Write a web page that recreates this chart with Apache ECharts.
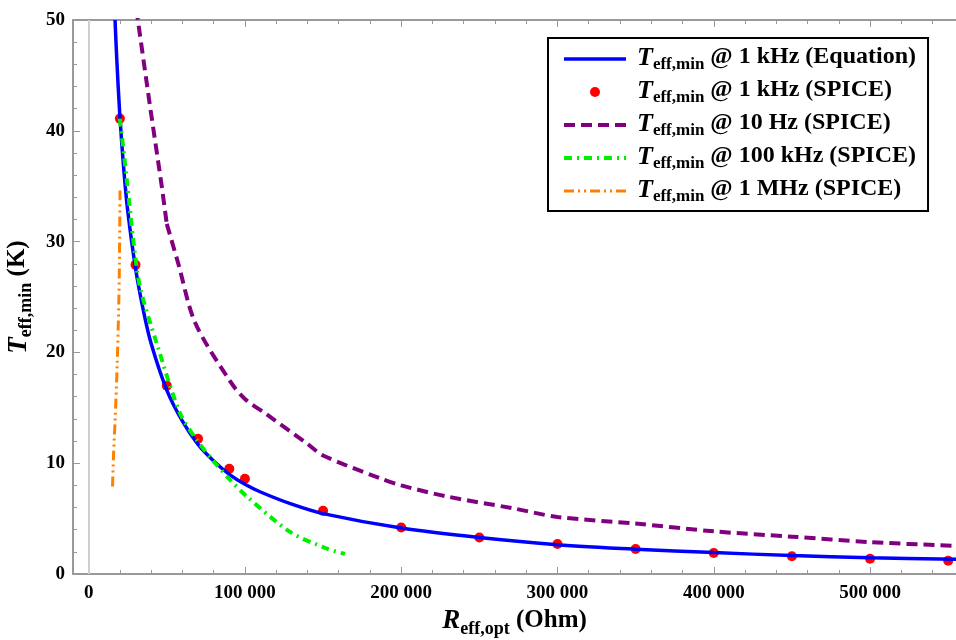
<!DOCTYPE html>
<html>
<head>
<meta charset="utf-8">
<script src="https://cdn.jsdelivr.net/npm/echarts@6/dist/echarts.min.js"></script>
<style>
  html, body { margin: 0; padding: 0; background: #fff; }
  #main { width: 956px; height: 640px; }
</style>
</head>
<body>
<div id="main"></div>
<script>
// [R_eff,opt (Ohm), T_eff,min (K)]
var eq1kHz = [[16900,50],[18000,46.5],[20000,41.3],[22500,36.5],[25000,32.8],[30000,27.6],[35000,23.8],[40000,20.8],
  [50000,16.6],[60000,13.8],[70000,11.7],[80000,10.2],[90000,9.0],[100000,8.1],[110000,7.4],[130000,6.3],[150000,5.45],
  [200000,4.15],[250000,3.3],[300000,2.65],[350000,2.24],[400000,1.93],[450000,1.67],[500000,1.47],[555000,1.32]];
var spice1kHz = [[20000,41.1],[30000,27.9],[50000,17.0],[70000,12.2],[90000,9.5],[100000,8.6],[150000,5.7],
  [200000,4.2],[250000,3.3],[300000,2.7],[350000,2.26],[400000,1.9],[450000,1.6],[500000,1.38],[550000,1.2]];
// 10 Hz curve: straight part above the knee at 50 kOhm, then the smooth tail
var spice10HzHigh = [[30500,51],[39300,42.2],[46800,35],[50000,31.6]];
var spice10HzLow = [[50000,31.6],[57400,28.0],[68100,22.7],[90500,17.4],
  [100000,15.8],[114000,14.4],[139500,11.8],[150000,10.7],[186400,8.64],[200000,8.0],[229100,7.0],
  [271500,5.93],[300000,5.15],[350000,4.55],[400000,3.85],[450000,3.37],[500000,2.88],[555000,2.53]];
var spice100kHz = [[20000,41.1],[24800,35.1],[28600,30.1],[32900,25.9],[43600,20.8],[58500,14.5],[69200,12.1],
  [79800,10.2],[90500,8.5],[101200,7.0],[128900,3.8],[152300,2.3],[164000,1.8]];
var spice1MHz = [[15300,7.9],[16000,11],[17000,14],[18300,19],[19300,24.5],[19700,28],[20100,34.7]];

var xMajorTicks = [0, 100000, 200000, 300000, 400000, 500000];
var xMinorTicks = [20000, 40000, 60000, 80000, 120000, 140000, 160000, 180000, 220000, 240000, 260000, 280000,
  320000, 340000, 360000, 380000, 420000, 440000, 460000, 480000, 520000, 540000];

var legendNames = {
  eq: '{t|T}{s|eff,min}{n| @ 1 kHz (Equation)}',
  s1k: '{t|T}{s|eff,min}{n| @ 1 kHz (SPICE)}',
  s10: '{t|T}{s|eff,min}{n| @ 10 Hz (SPICE)}',
  s100k: '{t|T}{s|eff,min}{n| @ 100 kHz (SPICE)}',
  s1M: '{t|T}{s|eff,min}{n| @ 1 MHz (SPICE)}'
};

var serif = 'Liberation Serif';
var frameColor = '#999';
var legendRich = {
  t: { fontFamily: serif, fontWeight: 'bold', fontStyle: 'italic', fontSize: 26, color: '#000', lineHeight: 28, verticalAlign: 'top' },
  s: { fontFamily: serif, fontWeight: 'bold', fontSize: 17, color: '#000', lineHeight: 17, verticalAlign: 'bottom' },
  n: { fontFamily: serif, fontWeight: 'bold', fontSize: 24, color: '#000', lineHeight: 28, verticalAlign: 'top' }
};
var nameRich = {
  t: { fontFamily: serif, fontWeight: 'bold', fontStyle: 'italic', fontSize: 27, color: '#000', lineHeight: 30, verticalAlign: 'top' },
  s: { fontFamily: serif, fontWeight: 'bold', fontSize: 18, color: '#000', lineHeight: 18, verticalAlign: 'bottom' },
  n: { fontFamily: serif, fontWeight: 'bold', fontSize: 25, color: '#000', lineHeight: 30, verticalAlign: 'top' }
};

function fmtX(v) {
  return String(v).replace(/\B(?=(\d{3})+(?!\d))/g, ' ');
}

var myChart = echarts.init(document.getElementById('main'));
var option;

option = {
  animation: false,
  backgroundColor: '#fff',
  grid: { left: 73, right: 0, top: 20, bottom: 66, outerBoundsMode: 'none' },
  legend: {
    orient: 'vertical',
    left: 548,
    top: 38,
    padding: [7, 12, 6, 14],
    itemGap: 5,
    itemWidth: 62,
    itemHeight: 10,
    borderColor: '#000',
    borderWidth: 2,
    backgroundColor: '#fff',
    lineStyle: { width: 'inherit' },
    formatter: function (name) { return legendNames[name]; },
    textStyle: { rich: legendRich, padding: [0, 0, 0, 6] },
    data: [
      { name: 'eq', itemStyle: { opacity: 0 } },
      { name: 's1k', icon: 'circle' },
      { name: 's10', itemStyle: { opacity: 0 } },
      { name: 's100k', itemStyle: { opacity: 0 } },
      { name: 's1M', itemStyle: { opacity: 0 } }
    ]
  },
  xAxis: [
    {
      type: 'value', min: -10000, max: 555000, position: 'bottom',
      axisLine: { show: true, onZero: false, lineStyle: { color: frameColor, width: 2 } },
      axisTick: { show: true, inside: true, length: 7, customValues: xMajorTicks, lineStyle: { color: frameColor } },
      axisLabel: {
        customValues: xMajorTicks, formatter: fmtX, margin: 10,
        fontFamily: serif, fontWeight: 'bold', fontSize: 19, color: '#000'
      },
      splitLine: { show: false },
      name: '{t|R}{s|eff,opt}{n| (Ohm)}',
      nameLocation: 'middle',
      nameGap: 34,
      nameTextStyle: { rich: nameRich }
    },
    {
      type: 'value', min: -10000, max: 555000, position: 'bottom',
      axisLine: { show: false },
      axisTick: { show: true, inside: true, length: 4, customValues: xMinorTicks, lineStyle: { color: frameColor } },
      axisLabel: { show: false },
      splitLine: { show: false }
    },
    {
      type: 'value', min: -10000, max: 555000, position: 'top',
      axisLine: { show: true, onZero: false, lineStyle: { color: frameColor, width: 2 } },
      axisTick: { show: true, inside: true, length: 7, customValues: xMajorTicks, lineStyle: { color: frameColor } },
      axisLabel: { show: false },
      splitLine: { show: false }
    },
    {
      type: 'value', min: -10000, max: 555000, position: 'top',
      axisLine: { show: false },
      axisTick: { show: true, inside: true, length: 4, customValues: xMinorTicks, lineStyle: { color: frameColor } },
      axisLabel: { show: false },
      splitLine: { show: false }
    }
  ],
  yAxis: {
    type: 'value', min: 0, max: 50, interval: 10,
    axisLine: { show: true, onZero: false, lineStyle: { color: frameColor, width: 2 } },
    axisTick: { show: true, inside: true, length: 7, lineStyle: { color: frameColor } },
    minorTick: { show: true, splitNumber: 5, length: 4, lineStyle: { color: frameColor } },
    axisLabel: { margin: 8, fontFamily: serif, fontWeight: 'bold', fontSize: 19, color: '#000' },
    splitLine: { show: false },
    name: '{t|T}{s|eff,min}{n| (K)}',
    nameLocation: 'middle',
    nameGap: 33,
    nameTextStyle: { rich: nameRich }
  },
  series: [
    {
      name: 'eq', type: 'line', data: eq1kHz, smooth: 0.3, symbol: 'none',
      lineStyle: { color: '#0000ff', width: 3.5 },
      itemStyle: { color: '#0000ff' },
      markLine: {
        silent: true, symbol: 'none', label: { show: false },
        lineStyle: { color: '#cfcfcf', width: 2, type: 'solid' },
        data: [{ xAxis: 0 }]
      }
    },
    {
      name: 's1k', type: 'scatter', data: spice1kHz, symbol: 'circle', symbolSize: 10,
      itemStyle: { color: '#ff0000', opacity: 1 }
    },
    {
      name: 's10', type: 'line', data: spice10HzHigh, symbol: 'none',
      lineStyle: { color: '#800080', width: 4, type: [11, 6] },
      itemStyle: { color: '#800080' }
    },
    {
      name: 's10', type: 'line', data: spice10HzLow, smooth: 0.3, symbol: 'none',
      lineStyle: { color: '#800080', width: 4, type: [11, 6] },
      itemStyle: { color: '#800080' }
    },
    {
      name: 's100k', type: 'line', data: spice100kHz, smooth: 0.3, symbol: 'none',
      lineStyle: { color: '#00ee00', width: 4, type: [8, 5, 2, 5] },
      itemStyle: { color: '#00ee00' }
    },
    {
      name: 's1M', type: 'line', data: spice1MHz, smooth: 0.3, symbol: 'none',
      lineStyle: { color: '#ff8000', width: 3, type: [10, 4, 2, 4, 2, 4] },
      itemStyle: { color: '#ff8000' }
    }
  ]
};

option && myChart.setOption(option);
</script>
</body>
</html>
